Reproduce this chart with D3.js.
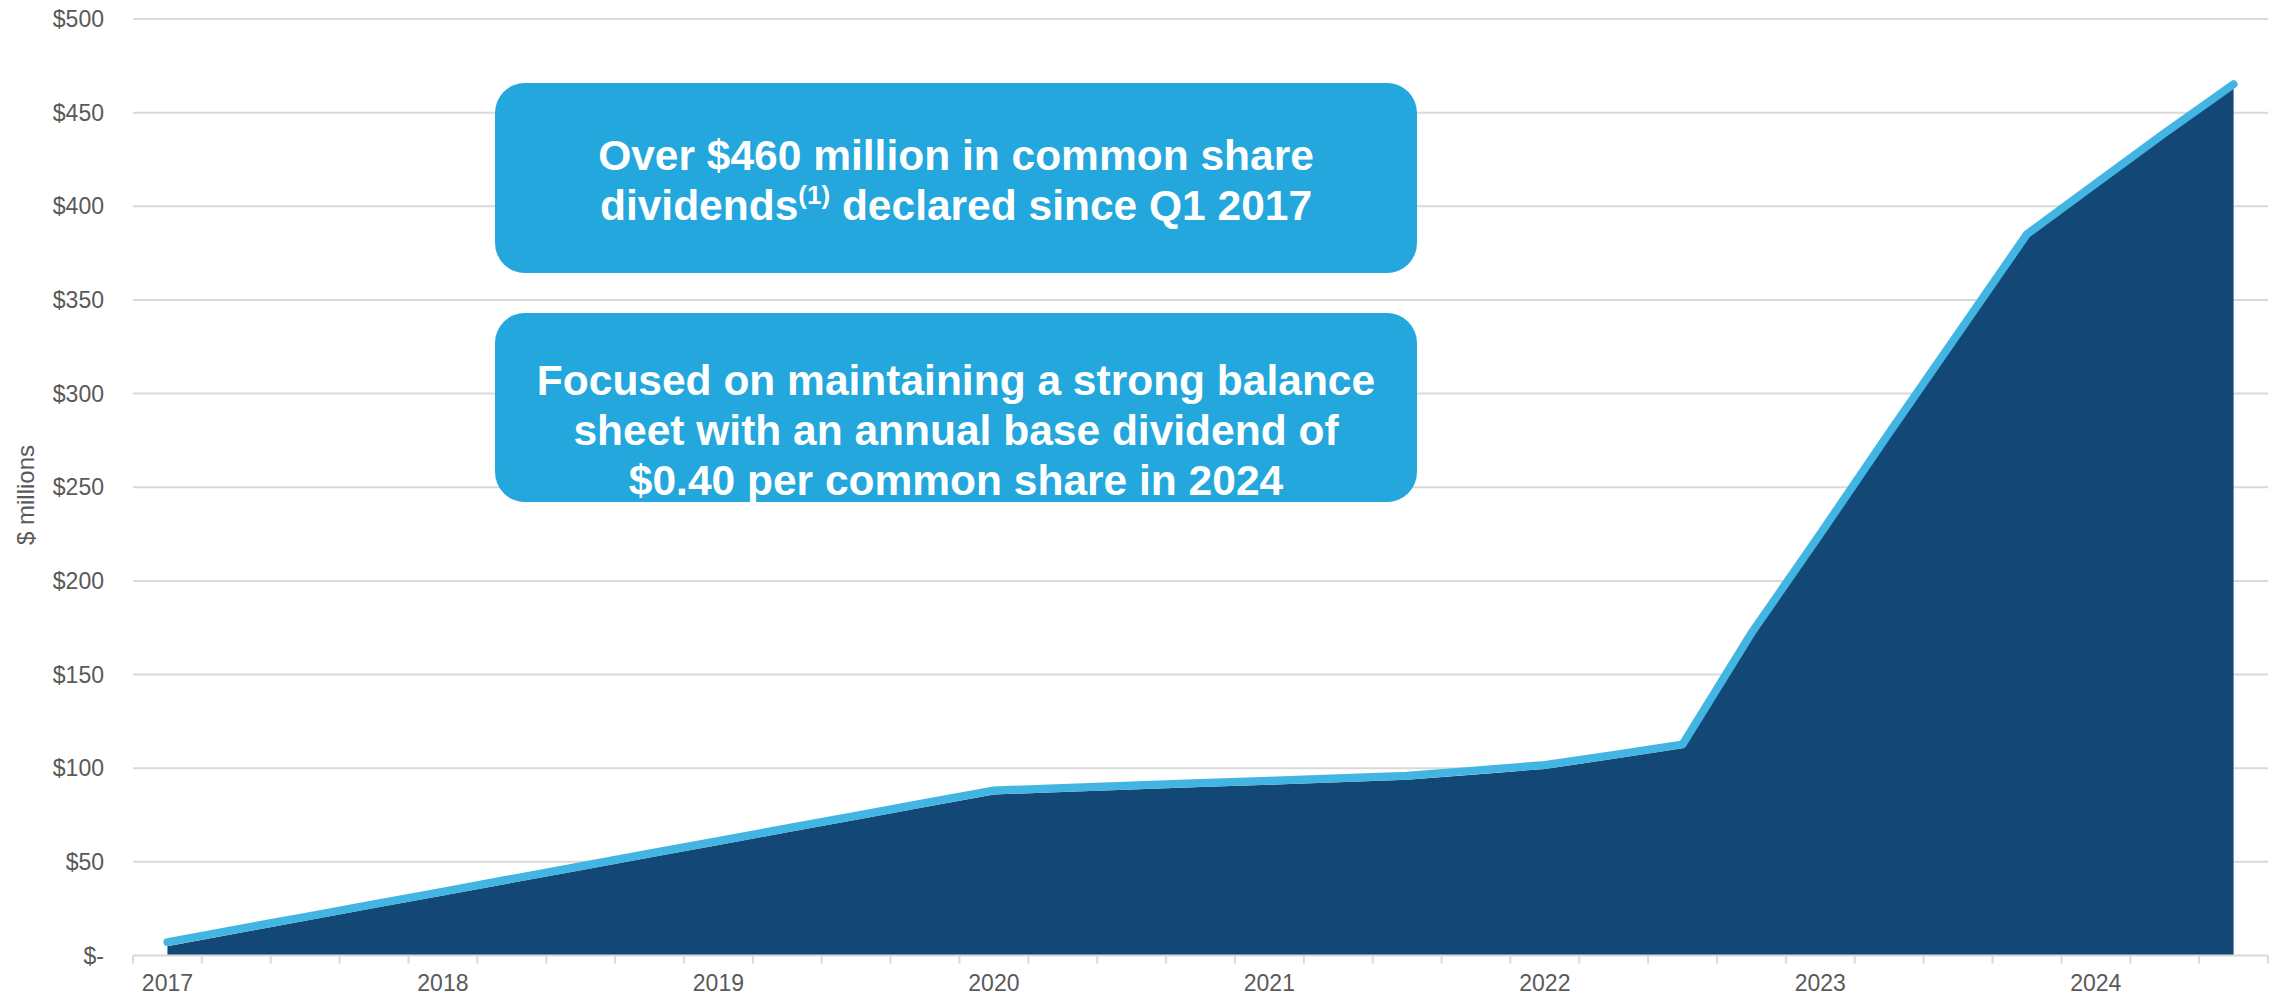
<!DOCTYPE html>
<html>
<head>
<meta charset="utf-8">
<script src="https://cdn.jsdelivr.net/npm/d3@7"></script>
<style>
  html, body { margin: 0; padding: 0; background: #ffffff; }
  svg { display: block; font-family: Arial, "Liberation Sans", sans-serif; }
</style>
</head>
<body>
<svg id="chart" width="2277" height="996"></svg>
<script>
// ---- data ----
const quarters = [
  "Q1 2017","Q2 2017","Q3 2017","Q4 2017",
  "Q1 2018","Q2 2018","Q3 2018","Q4 2018",
  "Q1 2019","Q2 2019","Q3 2019","Q4 2019",
  "Q1 2020","Q2 2020","Q3 2020","Q4 2020",
  "Q1 2021","Q2 2021","Q3 2021","Q4 2021",
  "Q1 2022","Q2 2022","Q3 2022","Q4 2022",
  "Q1 2023","Q2 2023","Q3 2023","Q4 2023",
  "Q1 2024","Q2 2024","Q3 2024"
];
// cumulative common share dividends declared, $ millions
const cumulativeDividends = [
  5, 11.8, 18.5, 25.3,
  32, 38.8, 45.5, 52.3,
  59, 65.8, 72.5, 79.3,
  86, 87.3, 88.6, 89.9,
  91.2, 92.5, 93.8, 96.7,
  99.6, 105, 110.6, 170,
  223, 277, 330, 383,
  410, 437, 463
];
const yearLabels = ["2017","2018","2019","2020","2021","2022","2023","2024"];
const yTicks = [0, 50, 100, 150, 200, 250, 300, 350, 400, 450, 500];
const yTickLabels = ["$-","$50","$100","$150","$200","$250","$300","$350","$400","$450","$500"];
const yAxisTitle = "$ millions";
const callout1 = ["Over $460 million in common share", ["dividends", "(1)", " declared since Q1 2017"]];
const callout2 = ["Focused on maintaining a strong balance", "sheet with an annual base dividend of", "$0.40 per common share in 2024"];

// ---- layout ----
const svg = d3.select("#chart");
const plot = { left: 133, right: 2268, top: 19, bottom: 955.5 };
const gridColor = "#d9d9d9";
const textColor = "#595959";
const areaColor = "#134876";
const lineColor = "#42b5e3";
const boxColor = "#23a7dd";

const x = d3.scaleBand().domain(quarters).range([plot.left, plot.right]).padding(0);
const y = d3.scaleLinear().domain([0, 500]).range([plot.bottom, plot.top]);
const cx = q => x(q) + x.bandwidth() / 2;

const data = quarters.map((q, i) => ({ q, v: cumulativeDividends[i] }));

// gridlines
svg.append("g").selectAll("line").data(yTicks.filter(d => d > 0)).join("line")
  .attr("x1", plot.left).attr("x2", plot.right)
  .attr("y1", d => y(d)).attr("y2", d => y(d))
  .attr("stroke", gridColor).attr("stroke-width", 2);

// y labels
svg.append("g").selectAll("text").data(yTicks).join("text")
  .attr("x", 104).attr("y", d => y(d))
  .attr("text-anchor", "end").attr("dominant-baseline", "central")
  .attr("font-size", 23).attr("fill", textColor)
  .text((d, i) => yTickLabels[i]);

// y title
svg.append("text")
  .attr("transform", `translate(25,495) rotate(-90)`)
  .attr("text-anchor", "middle").attr("dominant-baseline", "central")
  .attr("font-family", "'Liberation Sans Narrow', 'Arial Narrow', Arial, sans-serif")
  .attr("font-size", 24).attr("fill", textColor)
  .text(yAxisTitle);

// area
const area = d3.area().x(d => cx(d.q)).y0(y(0)).y1(d => y(d.v));
svg.append("path").datum(data).attr("d", area).attr("fill", areaColor);

// line (sits just above the area edge)
const line = d3.line().x(d => cx(d.q)).y(d => y(d.v));
svg.append("path").datum(data).attr("d", line)
  .attr("transform", "translate(0,-4)")
  .attr("fill", "none").attr("stroke", lineColor).attr("stroke-width", 8)
  .attr("stroke-linecap", "round").attr("stroke-linejoin", "round");

// x axis line and ticks
svg.append("line")
  .attr("x1", plot.left).attr("x2", plot.right)
  .attr("y1", plot.bottom).attr("y2", plot.bottom)
  .attr("stroke", gridColor).attr("stroke-width", 2);
const tickPos = quarters.map(q => x(q)).concat([plot.right]);
svg.append("g").selectAll("line").data(tickPos).join("line")
  .attr("x1", d => d).attr("x2", d => d)
  .attr("y1", plot.bottom).attr("y2", plot.bottom + 8)
  .attr("stroke", gridColor).attr("stroke-width", 2);

// x labels at Q1 of each year
svg.append("g").selectAll("text").data(yearLabels).join("text")
  .attr("x", d => cx("Q1 " + d)).attr("y", 991)
  .attr("text-anchor", "middle")
  .attr("font-size", 23).attr("fill", textColor)
  .text(d => d);

// callout boxes
const boxX = 495, boxW = 922;
const midX = boxX + boxW / 2;
svg.append("rect").attr("x", boxX).attr("y", 83).attr("width", boxW).attr("height", 190)
  .attr("rx", 30).attr("ry", 30).attr("fill", boxColor);
svg.append("rect").attr("x", boxX).attr("y", 313).attr("width", boxW).attr("height", 189)
  .attr("rx", 30).attr("ry", 30).attr("fill", boxColor);

const fs = 42.5;
svg.append("text").attr("x", midX).attr("y", 155).attr("dominant-baseline", "central")
  .attr("text-anchor", "middle").attr("font-size", fs).attr("font-weight", "bold").attr("fill", "#fff")
  .text(callout1[0]);
const t2 = svg.append("text").attr("x", midX).attr("y", 220)
  .attr("text-anchor", "middle").attr("font-size", fs).attr("font-weight", "bold").attr("fill", "#fff");
t2.append("tspan").text(callout1[1][0]);
t2.append("tspan").attr("dy", -16).attr("font-size", 26).text(callout1[1][1]);
t2.append("tspan").attr("dy", 16).text(callout1[1][2]);

svg.append("g").selectAll("text").data(callout2).join("text")
  .attr("x", midX).attr("y", (d, i) => 380 + i * 50)
  .attr("dominant-baseline", "central").attr("text-anchor", "middle")
  .attr("font-size", fs).attr("font-weight", "bold").attr("fill", "#fff")
  .text(d => d);
</script>
</body>
</html>
